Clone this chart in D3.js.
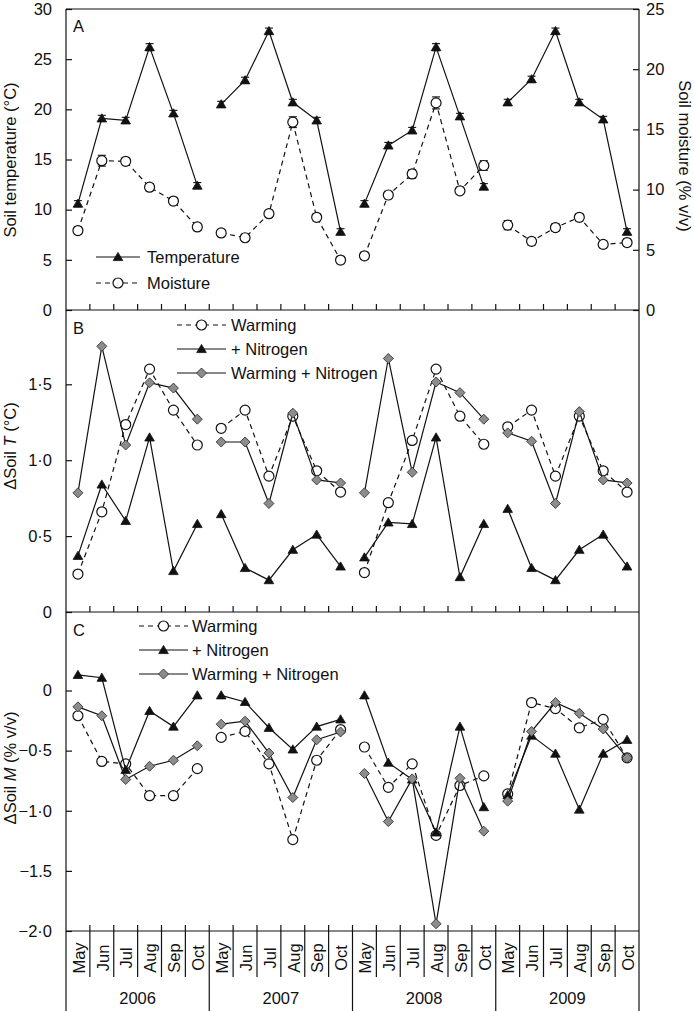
<!DOCTYPE html>
<html><head><meta charset="utf-8">
<script src="https://cdnjs.cloudflare.com/ajax/libs/d3/7.8.5/d3.min.js"></script>
<style>
html,body{margin:0;padding:0;background:#fff;}
svg{display:block;font-family:"Liberation Sans",Arial,Helvetica,sans-serif;}
</style></head>
<body>
<script>
// ---------- data ----------
const months = ["May","Jun","Jul","Aug","Sep","Oct"];
const years = ["2006","2007","2008","2009"];

// Panel A
const temperature = [10.6,19.1,18.9,26.2,19.6,12.4, 20.5,22.9,27.8,20.7,18.9,7.8, 10.6,16.4,17.9,26.2,19.3,12.3, 20.7,23.0,27.8,20.7,19.0,7.8];
const temperatureErr = [0.3,0.3,0.3,0.35,0.3,0.3, 0.3,0.3,0.3,0.3,0.3,0.3, 0.3,0.3,0.3,0.35,0.3,0.3, 0.3,0.3,0.3,0.3,0.3,0.3];
const moisture = [6.6,12.4,12.35,10.2,9.05,6.9, 6.4,6.0,8.0,15.6,7.7,4.15, 4.5,9.55,11.3,17.2,9.9,12.0, 7.05,5.7,6.85,7.7,5.45,5.6];
const moistureErr = [0.3,0.45,0.3,0.3,0.3,0.3, 0.3,0.3,0.3,0.45,0.3,0.3, 0.3,0.3,0.35,0.5,0.3,0.4, 0.38,0.3,0.3,0.3,0.3,0.3];

// Panel B (delta soil T)
const warmingT = [0.25,0.66,1.235,1.60,1.33,1.10, 1.21,1.33,0.895,1.29,0.93,0.79, 0.26,0.72,1.13,1.60,1.29,1.105, 1.22,1.33,0.895,1.29,0.93,0.79];
const nitrogenT = [0.37,0.84,0.60,1.15,0.27,0.58, 0.645,0.29,0.21,0.41,0.51,0.30, 0.36,0.59,0.58,1.15,0.23,0.58, 0.68,0.29,0.21,0.41,0.51,0.30];
const warmNitT = [0.785,1.75,1.10,1.51,1.475,1.27, 1.12,1.12,0.715,1.31,0.87,0.85, 0.785,1.67,0.92,1.515,1.445,1.27, 1.18,1.125,0.715,1.32,0.87,0.85];

// Panel C (delta soil M)
const warmingM = [-0.21,-0.59,-0.61,-0.875,-0.875,-0.65, -0.39,-0.34,-0.61,-1.24,-0.58,-0.325, -0.47,-0.805,-0.61,-1.205,-0.79,-0.71, -0.86,-0.10,-0.15,-0.31,-0.24,-0.56];
const nitrogenM = [0.13,0.106,-0.66,-0.17,-0.30,-0.04, -0.04,-0.095,-0.31,-0.49,-0.30,-0.24, -0.04,-0.60,-0.74,-1.18,-0.30,-0.97, -0.87,-0.375,-0.525,-0.99,-0.525,-0.41];
const warmNitM = [-0.136,-0.21,-0.74,-0.63,-0.58,-0.46, -0.28,-0.255,-0.52,-0.89,-0.41,-0.345, -0.69,-1.09,-0.735,-1.94,-0.73,-1.17, -0.92,-0.34,-0.10,-0.19,-0.32,-0.56];

// tick values / labels
const ticksA = [0,5,10,15,20,25,30];
const ticksAR = [0,5,10,15,20,25];
const ticksB = [0,0.5,1.0,1.5];
const ticksBLabels = ["0","0·5","1·0","1·5"];
const ticksC = [0,-0.5,-1.0,-1.5,-2.0];
const ticksCLabels = ["0","−0·5","−1·0","−1.5","−2·0"];

// ---------- layout ----------
const W = 694, H = 1011;
const L = 66, R = 639;
const topA = 9, botA = 310, botB = 612, botC = 931;
const FONT = 16.5;
const INK = "#111";
const GRAY = "#8c8c8c";

const svg = d3.select("body").append("svg").attr("width", W).attr("height", H);

const cats = [];
years.forEach(y => months.forEach(m => cats.push(y + "-" + m)));
const x = d3.scaleBand().domain(cats).range([L, R]).padding(0);
const xc = i => x(cats[i]) + x.bandwidth() / 2;

const yA = d3.scaleLinear().domain([0, 30]).range([botA, topA]);
const yAR = d3.scaleLinear().domain([0, 25]).range([botA, topA]);
const yB = d3.scaleLinear().domain([0, 2]).range([botB, 308.4]);
const yC = d3.scaleLinear().domain([-2, 0]).range([botC, 690.5]);

// ---------- frame ----------
const frame = svg.append("g").attr("stroke", INK).attr("stroke-width", 1.2).attr("fill", "none");
frame.append("line").attr("x1", L).attr("x2", R).attr("y1", topA).attr("y2", topA);
[botA, botB, botC].forEach(yy => frame.append("line").attr("x1", L).attr("x2", R).attr("y1", yy).attr("y2", yy));
frame.append("line").attr("x1", L).attr("x2", L).attr("y1", topA).attr("y2", H);
frame.append("line").attr("x1", R).attr("x2", R).attr("y1", topA).attr("y2", H);

// inner x ticks at month boundaries on each panel bottom
const bounds = cats.slice(1);
[botA, botB, botC].forEach(yy => {
  frame.selectAll(null).data(bounds).join("line")
    .attr("x1", d => x(d)).attr("x2", d => x(d))
    .attr("y1", yy - 6).attr("y2", yy);
});
// separators below bottom axis
frame.selectAll(null).data(bounds).join("line")
  .attr("x1", d => x(d)).attr("x2", d => x(d))
  .attr("y1", botC).attr("y2", (d, i) => ((i + 1) % 6 === 0) ? H : 977);

// month labels
svg.append("g").selectAll("text").data(cats).join("text")
  .attr("transform", d => `translate(${x(d) + x.bandwidth() / 2 + 1},958) rotate(-90)`)
  .attr("text-anchor", "middle").attr("dy", "0.35em")
  .attr("font-size", FONT).attr("fill", INK)
  .text(d => d.split("-")[1]);
// year labels
svg.append("g").selectAll("text").data(years).join("text")
  .attr("x", (d, i) => (x(cats[i * 6]) + x(cats[i * 6 + 5]) + x.bandwidth()) / 2)
  .attr("y", 1004).attr("text-anchor", "middle")
  .attr("font-size", FONT).attr("fill", INK).text(d => d);

// ---------- y axes ----------
function styleAxis(g) {
  g.select(".domain").remove();
  g.selectAll(".tick line").attr("stroke", INK).attr("stroke-width", 1.2);
  g.selectAll(".tick text").attr("font-size", FONT).attr("fill", INK).attr("font-family", "Liberation Sans, Arial, sans-serif");
}
svg.append("g").attr("transform", `translate(${L},0)`)
  .call(d3.axisLeft(yA).tickValues(ticksA).tickSize(-6).tickPadding(14).tickFormat(d3.format("d")))
  .call(styleAxis);
svg.append("g").attr("transform", `translate(${R},0)`)
  .call(d3.axisRight(yAR).tickValues(ticksAR).tickSize(-6).tickPadding(7).tickFormat(d3.format("d")))
  .call(styleAxis);
svg.append("g").attr("transform", `translate(${L},0)`)
  .call(d3.axisLeft(yB).tickValues(ticksB).tickSize(-6).tickPadding(14).tickFormat((d, i) => ticksBLabels[i]))
  .call(styleAxis);
svg.append("g").attr("transform", `translate(${L},0)`)
  .call(d3.axisLeft(yC).tickValues(ticksC).tickSize(-6).tickPadding(14).tickFormat((d, i) => ticksCLabels[i]))
  .call(styleAxis);

// axis titles
function vtitle(cx, cy, rot, parts) {
  const t = svg.append("text")
    .attr("transform", `translate(${cx},${cy}) rotate(${rot})`)
    .attr("text-anchor", "middle").attr("dy", "0.35em")
    .attr("font-size", FONT).attr("fill", INK);
  parts.forEach(p => {
    const s = t.append("tspan").text(p.t);
    if (p.i) s.attr("font-style", "italic");
  });
}
vtitle(10, 160, -90, [{t: "Soil temperature (°C)"}]);
vtitle(685, 156, 90, [{t: "Soil moisture (% v/v)"}]);
vtitle(10, 446, -90, [{t: "ΔSoil "}, {t: "T", i: true}, {t: " (°C)"}]);
vtitle(10, 768, -90, [{t: "ΔSoil "}, {t: "M", i: true}, {t: " (% v/v)"}]);

// panel letters
[["A", 32], ["B", 334], ["C", 636]].forEach(([l, yy]) =>
  svg.append("text").attr("x", 73).attr("y", yy).attr("font-size", FONT).attr("fill", INK).text(l));

// ---------- marks ----------
const triPath = "M0,-4.6L4.8,3.6L-4.8,3.6Z";
const diaPath = "M0,-5L5,0L0,5L-5,0Z";

function drawMarker(g, kind, cx, cy) {
  if (kind === "circle") {
    g.append("circle").attr("cx", cx).attr("cy", cy).attr("r", 5)
      .attr("fill", "#fff").attr("stroke", INK).attr("stroke-width", 1.2);
  } else if (kind === "tri") {
    g.append("path").attr("d", triPath).attr("transform", `translate(${cx},${cy})`)
      .attr("fill", INK).attr("stroke", INK).attr("stroke-width", 0.8);
  } else {
    g.append("path").attr("d", diaPath).attr("transform", `translate(${cx},${cy})`)
      .attr("fill", GRAY).attr("stroke", "#333").attr("stroke-width", 0.9);
  }
}

function drawSeries(values, yScale, kind, dashed, errs) {
  const g = svg.append("g");
  const line = d3.line().x(d => xc(d.i)).y(d => yScale(d.v));
  years.forEach((yr, k) => {
    const seg = d3.range(6).map(j => ({i: k * 6 + j, v: values[k * 6 + j]}));
    g.append("path").attr("d", line(seg)).attr("fill", "none")
      .attr("stroke", INK).attr("stroke-width", 1.2)
      .attr("stroke-dasharray", dashed ? "5,4" : null);
  });
  if (errs) {
    const eg = g.append("g").attr("stroke", INK).attr("stroke-width", 1.1);
    values.forEach((v, i) => {
      const cx = xc(i), y1 = yScale(v - errs[i]), y2 = yScale(v + errs[i]);
      eg.append("line").attr("x1", cx).attr("x2", cx).attr("y1", y1).attr("y2", y2);
      eg.append("line").attr("x1", cx - 4).attr("x2", cx + 4).attr("y1", y1).attr("y2", y1);
      eg.append("line").attr("x1", cx - 4).attr("x2", cx + 4).attr("y1", y2).attr("y2", y2);
    });
  }
  values.forEach((v, i) => drawMarker(g, kind, xc(i), yScale(v)));
}

// Panel A
drawSeries(temperature, yA, "tri", false, temperatureErr);
drawSeries(moisture, yAR, "circle", true, moistureErr);
// Panel B
drawSeries(warmingT, yB, "circle", true);
drawSeries(nitrogenT, yB, "tri", false);
drawSeries(warmNitT, yB, "dia", false);
// Panel C
drawSeries(warmingM, yC, "circle", true);
drawSeries(nitrogenM, yC, "tri", false);
drawSeries(warmNitM, yC, "dia", false);

// ---------- legends ----------
function legend(x0, x1, textX, rows) {
  const g = svg.append("g");
  rows.forEach(r => {
    g.append("line").attr("x1", x0).attr("x2", x1).attr("y1", r.y).attr("y2", r.y)
      .attr("stroke", INK).attr("stroke-width", 1.2)
      .attr("stroke-dasharray", r.dashed ? "5,4" : null);
    drawMarker(g, r.kind, (x0 + x1) / 2, r.y);
    g.append("text").attr("x", textX).attr("y", r.y).attr("dy", "0.36em")
      .attr("font-size", FONT).attr("fill", INK).text(r.label);
  });
}
legend(96, 140, 147, [
  {y: 257, kind: "tri", dashed: false, label: "Temperature"},
  {y: 283, kind: "circle", dashed: true, label: "Moisture"}
]);
legend(177, 226, 231, [
  {y: 325, kind: "circle", dashed: true, label: "Warming"},
  {y: 349, kind: "tri", dashed: false, label: "+ Nitrogen"},
  {y: 373, kind: "dia", dashed: false, label: "Warming + Nitrogen"}
]);
legend(139, 188, 192, [
  {y: 626, kind: "circle", dashed: true, label: "Warming"},
  {y: 650, kind: "tri", dashed: false, label: "+ Nitrogen"},
  {y: 674, kind: "dia", dashed: false, label: "Warming + Nitrogen"}
]);
</script>
</body></html>
